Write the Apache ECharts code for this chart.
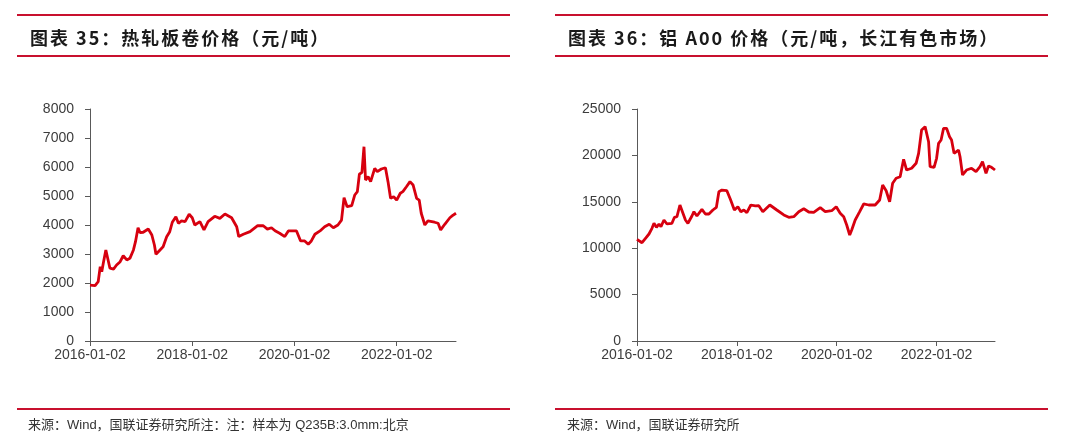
<!DOCTYPE html>
<html>
<head>
<meta charset="utf-8">
<script src="https://cdn.jsdelivr.net/npm/echarts@6/dist/echarts.min.js"></script>
<style>
  html, body { margin: 0; padding: 0; background: #fff; }
  #page { position: relative; width: 1080px; height: 441px; overflow: hidden; }
  #chart { position: absolute; left: 0; top: 0; width: 1080px; height: 441px; }
  .rule { position: absolute; height: 2px; background: #c8102e; }
  .title {
    position: absolute;
    font-family: "Noto Sans CJK SC", sans-serif;
    font-weight: bold;
    font-size: 18px;
    line-height: 20px;
    letter-spacing: 2px;
    color: #1a1a1a;
    white-space: nowrap;
  }
  .source {
    position: absolute;
    font-family: "Liberation Sans", "Noto Sans CJK SC", sans-serif;
    font-size: 13px;
    line-height: 16px;
    color: #333;
    white-space: nowrap;
  }
</style>
</head>
<body>
<div id="page">
  <div id="chart"></div>

  <div class="rule" style="left:17px; top:14px; width:493px"></div>
  <div class="title" style="left:30px; top:27px">图表 35：热轧板卷价格（元/吨）</div>
  <div class="rule" style="left:17px; top:55px; width:493px"></div>
  <div class="rule" style="left:17px; top:408px; width:493px"></div>
  <div class="source" style="left:28px; top:417px">来源：Wind，国联证券研究所注：注：样本为 Q235B:3.0mm:北京</div>

  <div class="rule" style="left:555px; top:14px; width:493px"></div>
  <div class="title" style="left:568px; top:27px">图表 36：铝 A00 价格（元/吨，长江有色市场）</div>
  <div class="rule" style="left:555px; top:55px; width:493px"></div>
  <div class="rule" style="left:555px; top:408px; width:493px"></div>
  <div class="source" style="left:567px; top:417px">来源：Wind，国联证券研究所</div>
</div>

<script>
// 时间轴刻度（年份，标签为 yyyy-01-02）
const tickYears = [2016, 2018, 2020, 2022];

// 热轧板卷价格（元/吨），横轴为小数年份
const steelDates = [
  2016.00, 2016.10, 2016.16, 2016.20, 2016.23, 2016.26, 2016.31, 2016.34, 2016.39, 2016.46,
  2016.52, 2016.59, 2016.65, 2016.72, 2016.78, 2016.85, 2016.89, 2016.94, 2016.98, 2017.04,
  2017.14, 2017.21, 2017.26, 2017.29, 2017.37, 2017.43, 2017.50, 2017.56, 2017.61, 2017.68,
  2017.73, 2017.79, 2017.86, 2017.94, 2018.00, 2018.05, 2018.15, 2018.23, 2018.31, 2018.44,
  2018.54, 2018.64, 2018.77, 2018.87, 2018.91, 2019.00, 2019.13, 2019.28, 2019.39, 2019.47,
  2019.55, 2019.62, 2019.71, 2019.81, 2019.88, 2020.04, 2020.12, 2020.20, 2020.27, 2020.33,
  2020.40, 2020.50, 2020.59, 2020.68, 2020.76, 2020.85, 2020.92, 2020.97, 2021.03, 2021.12,
  2021.18, 2021.23, 2021.27, 2021.32, 2021.36, 2021.39, 2021.44, 2021.49, 2021.57, 2021.62,
  2021.70, 2021.78, 2021.83, 2021.88, 2021.94, 2022.00, 2022.07, 2022.12, 2022.19, 2022.26,
  2022.32, 2022.39, 2022.44, 2022.48, 2022.55, 2022.61, 2022.74, 2022.81, 2022.86, 2022.94,
  2023.04, 2023.09, 2023.12, 2023.16
];
const steelPrice = [
  1930, 1910, 2045, 2560, 2390, 2680, 3140, 3140, 2510, 2480,
  2620, 2735, 2940, 2795, 2850, 3140, 3425, 3905, 3735, 3750,
  3860, 3655, 3310, 2990, 3140, 3250, 3595, 3770, 4095, 4285,
  4060, 4140, 4115, 4370, 4250, 4000, 4115, 3830, 4115, 4300,
  4230, 4380, 4250, 3940, 3600, 3680, 3770, 3975, 3975, 3860,
  3905, 3800, 3715, 3600, 3795, 3795, 3450, 3450, 3335, 3450,
  3680, 3795, 3940, 4025, 3905, 4000, 4170, 4940, 4630, 4665,
  5035, 5150, 5750, 5815, 6700, 5550, 5665, 5495, 5955, 5840,
  5930, 5975, 5495, 4920, 4975, 4860, 5095, 5150, 5320, 5495,
  5380, 4920, 4860, 4405, 4000, 4140, 4095, 4060, 3830, 4025,
  4250, 4320, 4285, 4405
];

// 铝 A00 价格（元/吨，长江有色市场）
const aluDates = [
  2016.00, 2016.10, 2016.17, 2016.24, 2016.30, 2016.34, 2016.39, 2016.44, 2016.48, 2016.54,
  2016.60, 2016.70, 2016.75, 2016.80, 2016.86, 2016.90, 2016.97, 2017.02, 2017.10, 2017.14,
  2017.20, 2017.30, 2017.37, 2017.44, 2017.52, 2017.59, 2017.64, 2017.70, 2017.80, 2017.87,
  2017.95, 2018.02, 2018.08, 2018.14, 2018.20, 2018.28, 2018.37, 2018.44, 2018.52, 2018.66,
  2018.80, 2018.94, 2019.04, 2019.14, 2019.24, 2019.34, 2019.44, 2019.54, 2019.67, 2019.77,
  2019.90, 2019.99, 2020.07, 2020.14, 2020.20, 2020.26, 2020.30, 2020.37, 2020.46, 2020.54,
  2020.64, 2020.77, 2020.86, 2020.92, 2020.99, 2021.06, 2021.12, 2021.19, 2021.27, 2021.34,
  2021.40, 2021.50, 2021.59, 2021.64, 2021.70, 2021.77, 2021.80, 2021.84, 2021.87, 2021.95,
  2022.00, 2022.04, 2022.09, 2022.14, 2022.20, 2022.26, 2022.30, 2022.35, 2022.44, 2022.47,
  2022.52, 2022.60, 2022.70, 2022.79, 2022.87, 2022.92, 2022.99, 2023.04, 2023.10, 2023.17
];
const aluPrice = [
  10960, 10590, 11070, 11530, 12145, 12685, 12250, 12610, 12320, 13040,
  12610, 12685, 13330, 13395, 14655, 14655, 13040, 12685, 13470, 13935,
  13470, 14190, 13685, 13685, 14115, 14405, 16090, 16270, 16195, 15270,
  14115, 14470, 13935, 14115, 13825, 14655, 14550, 14580, 13935, 14655,
  14115, 13580, 13330, 13395, 13935, 14255, 13900, 13850, 14365, 13935,
  14040, 14470, 13760, 13395, 12500, 11420, 11960, 13040, 13935, 14765,
  14655, 14655, 15195, 16810, 16195, 15010, 16995, 17535, 17705, 19580,
  18425, 18610, 19150, 20225, 22740, 23095, 23275, 21475, 18785, 18720,
  19690, 21305, 21660, 22920, 22920, 22015, 21660, 20225, 20580, 19860,
  17890, 18425, 18610, 18245, 18785, 19320, 18070, 18860, 18720, 18425
];

const pairs = (xs, ys) => xs.map((x, i) => [x, ys[i]]);

const lineColor = "#d7000f";
const axisColor = "#595959";
const labelColor = "#3c3c3c";
const fontFamily = "Liberation Sans, Arial, sans-serif";

const makeXAxis = (gridIndex, max) => ({
  type: "value",
  gridIndex: gridIndex,
  min: 2016,
  max: max,
  splitLine: { show: false },
  axisLine: { show: true, onZero: false, lineStyle: { color: axisColor, width: 1 } },
  axisTick: { show: true, customValues: tickYears, length: 5, lineStyle: { color: axisColor } },
  axisLabel: {
    customValues: tickYears,
    formatter: (v) => v + "-01-02",
    color: labelColor,
    fontSize: 14,
    fontFamily: fontFamily,
    margin: 7,
  },
});

const makeYAxis = (gridIndex, max, interval) => ({
  type: "value",
  gridIndex: gridIndex,
  min: 0,
  max: max,
  interval: interval,
  splitLine: { show: false },
  axisLine: { show: true, lineStyle: { color: axisColor, width: 1 } },
  axisTick: { show: true, length: 5, lineStyle: { color: axisColor } },
  axisLabel: {
    formatter: (v) => String(v), // 不加千分位
    color: labelColor,
    fontSize: 14,
    fontFamily: fontFamily,
    margin: 16,
  },
});

const myChart = echarts.init(document.getElementById("chart"), null, { renderer: "canvas" });

const option = {
  animation: false,
  grid: [
    { left: 90, top: 109, width: 366, height: 232 },
    { left: 637, top: 109, width: 358, height: 232 },
  ],
  xAxis: [makeXAxis(0, 2023.16), makeXAxis(1, 2023.17)],
  yAxis: [makeYAxis(0, 8000, 1000), makeYAxis(1, 25000, 5000)],
  series: [
    {
      name: "热轧板卷价格",
      type: "line",
      xAxisIndex: 0,
      yAxisIndex: 0,
      data: pairs(steelDates, steelPrice),
      showSymbol: false,
      lineStyle: { color: lineColor, width: 2.8 },
      itemStyle: { color: lineColor },
    },
    {
      name: "铝A00价格",
      type: "line",
      xAxisIndex: 1,
      yAxisIndex: 1,
      data: pairs(aluDates, aluPrice),
      showSymbol: false,
      lineStyle: { color: lineColor, width: 2.8 },
      itemStyle: { color: lineColor },
    },
  ],
};

myChart.setOption(option);
window.addEventListener("resize", myChart.resize);
</script>
</body>
</html>
